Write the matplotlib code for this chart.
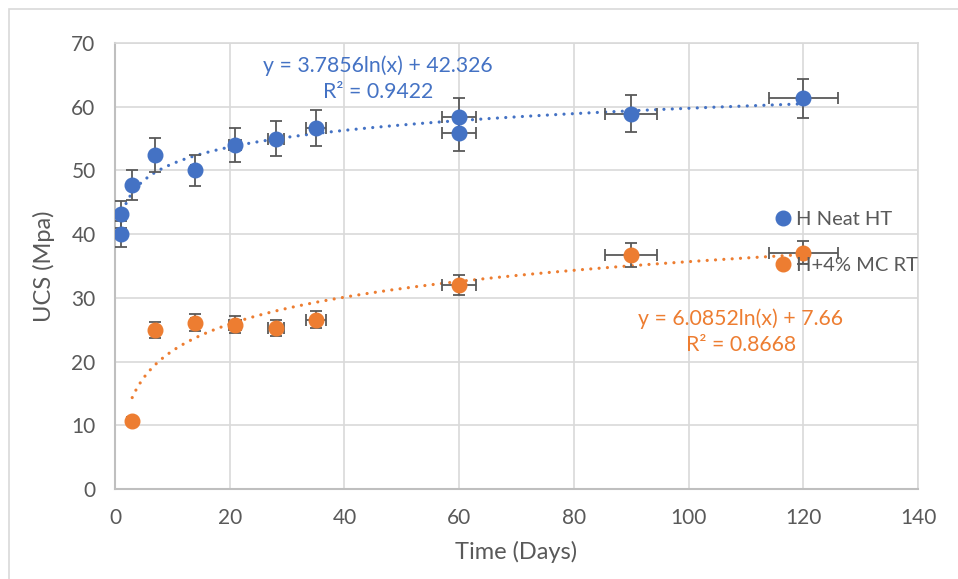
import numpy as np
import matplotlib.pyplot as plt
from matplotlib.lines import Line2D
from matplotlib.patches import Rectangle

plt.rcParams['font.family'] = ['Lato', 'DejaVu Sans']

# data
neat_days = [1, 1, 3, 7, 14, 21, 28, 35, 60, 60, 90, 120]
neat_ucs = [40.0, 43.1, 47.7, 52.4, 50.0, 54.0, 55.0, 56.7, 58.4, 55.9, 58.9, 61.3]
mc_days = [3, 7, 14, 21, 28, 35, 60, 90, 120]
mc_ucs = [10.7, 24.9, 26.1, 25.8, 25.3, 26.6, 32.0, 36.7, 37.1]
err_pct = 0.05  # percentage error bars, both directions

# log trendlines: y = a*ln(x) + b
neat_fit = [3.7856, 42.326]
mc_fit = [6.0852, 7.66]
neat_r2 = 0.9422
mc_r2 = 0.8668

labels = ['H Neat HT', 'H+4% MC RT']
blue = '#4472C4'
orange = '#ED7D31'
grey = '#595959'

fig = plt.figure(figsize=(9.58, 5.79), dpi=100)
ax = fig.add_axes([115 / 958, 1 - 489 / 579, (918 - 115) / 958, (489 - 43) / 579])

# outer chart border (only top/left visible in the crop)
fig.patches.append(Rectangle((9 / 958, -0.1), 1.2, 1 - 9 / 579 + 0.1, transform=fig.transFigure,
                             fill=False, edgecolor='#D9D9D9', lw=1.2))

for days, ucs, fit, col, x0 in [(neat_days, neat_ucs, neat_fit, blue, 1),
                                (mc_days, mc_ucs, mc_fit, orange, 3)]:
    d = np.array(days, dtype=float)
    u = np.array(ucs)
    xs = np.linspace(x0, 120, 400)
    ax.plot(xs, fit[0] * np.log(xs) + fit[1], color=col, lw=2.3,
            ls=(0, (0.01, 2.6)), dash_capstyle='round', zorder=2)
    ax.errorbar(d, u, xerr=d * err_pct, yerr=u * err_pct, fmt='none', ecolor=grey,
                elinewidth=1.3, capsize=4.3, capthick=1.3, zorder=3)
    ax.plot(d, u, 'o', color=col, ms=10.5, zorder=4)

ax.text(45.8, 66.4, 'y = %.4fln(x) + %.3f' % (neat_fit[0], neat_fit[1]), color=blue,
        fontsize=15.3, ha='center', va='center')
ax.text(45.8, 62.3, 'R² = %.4f' % neat_r2, color=blue, fontsize=15.3, ha='center', va='center')
ax.text(109.1, 26.8, 'y = %.4fln(x) + %.2f' % (mc_fit[0], mc_fit[1]), color=orange,
        fontsize=15.3, ha='center', va='center')
ax.text(109.1, 22.6, 'R² = %.4f' % mc_r2, color=orange, fontsize=15.3, ha='center', va='center')

handles = [Line2D([], [], ls='none', marker='o', color=c, ms=10.5) for c in (blue, orange)]
leg = ax.legend(handles, labels, loc='upper left', bbox_to_anchor=(767 / 958, 1 - 201 / 579),
                bbox_transform=fig.transFigure, frameon=False, fontsize=14.5,
                handlelength=0.6, handletextpad=0.35, labelspacing=1.45, borderpad=0)
for t in leg.get_texts():
    t.set_color(grey)
leg.set_zorder(6)

ax.set_xlim(0, 140)
ax.set_ylim(0, 70)
ax.set_xticks(range(0, 141, 20))
ax.set_yticks(range(0, 71, 10))
ax.grid(True, color='#D9D9D9', lw=1.2)
ax.set_axisbelow(True)
ax.tick_params(length=0, labelsize=15, labelcolor=grey, pad=14)
for side in ['top', 'right']:
    ax.spines[side].set_color('#D9D9D9')
    ax.spines[side].set_linewidth(1.2)
for side in ['left', 'bottom']:
    ax.spines[side].set_color('#BFBFBF')
    ax.spines[side].set_linewidth(1.5)

ax.set_xlabel('Time (Days)', fontsize=17, color=grey, labelpad=9)
ax.set_ylabel('UCS (Mpa)', fontsize=17, color=grey, labelpad=12)

fig.savefig('out.png', dpi=100)
